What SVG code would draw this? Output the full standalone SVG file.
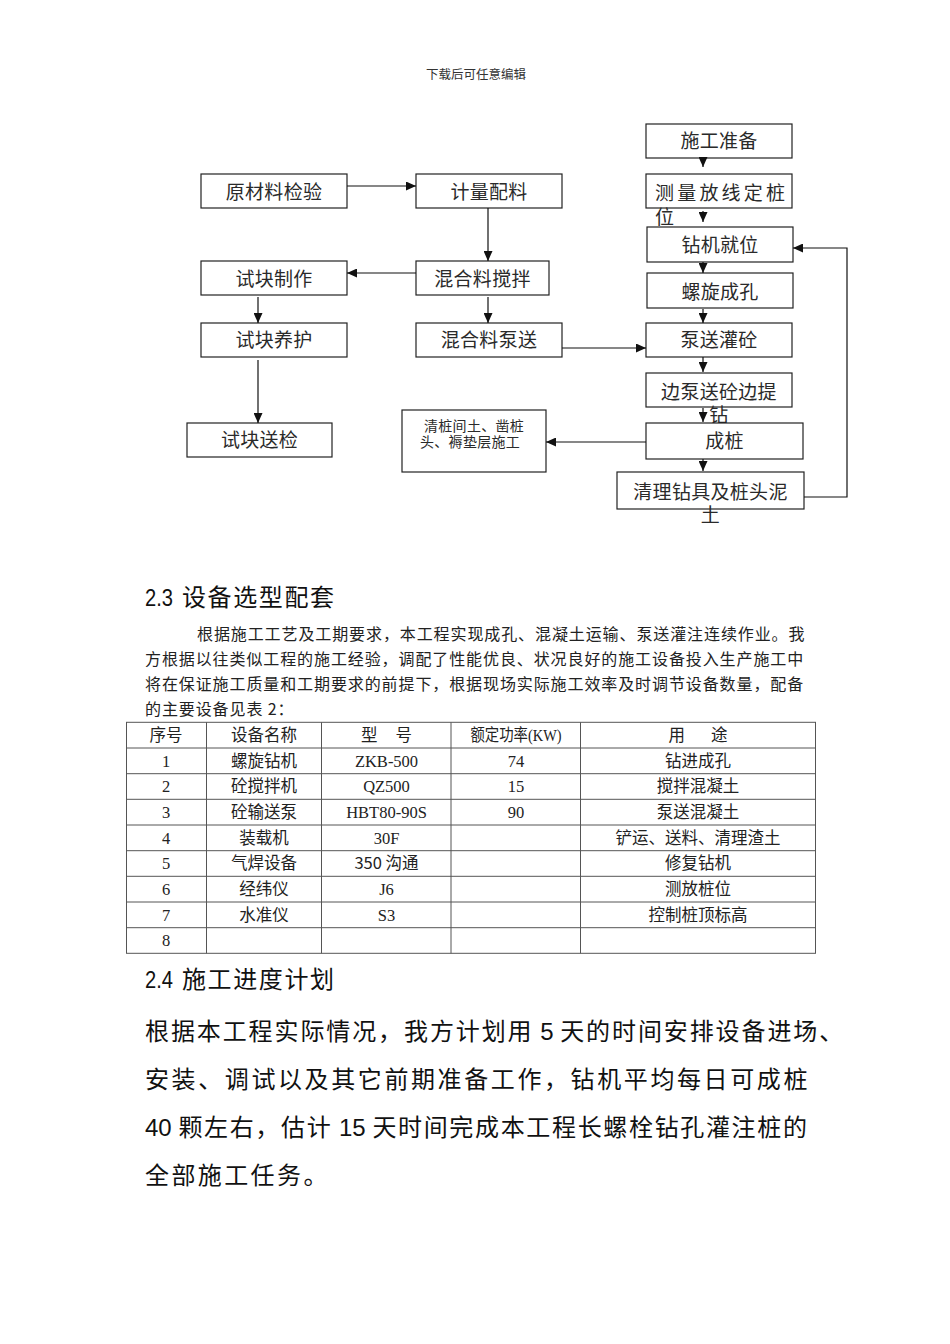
<svg xmlns="http://www.w3.org/2000/svg" width="950" height="1344" viewBox="0 0 950 1344">
<defs>
<style>
.box{fill:#fff;stroke:#222;stroke-width:1.2}
.lbl{font-family:"Noto Sans CJK SC",sans-serif;font-size:19px;fill:#2a2a2a;text-anchor:middle;letter-spacing:0.3px}
.sm{font-family:"Noto Sans CJK SC",sans-serif;font-size:14px;fill:#2a2a2a;letter-spacing:0.3px}
.conn{stroke:#111;stroke-width:1.2;fill:none;marker-end:url(#arr)}
.grid{stroke:#555;stroke-width:1;fill:none}
.tb{font-family:"Liberation Serif","Noto Sans CJK SC",serif;font-size:16.5px;fill:#222;text-anchor:middle}
.h2{font-family:"Noto Sans CJK SC",sans-serif;font-size:24px;fill:#111;letter-spacing:1.6px}
.p{font-family:"Noto Sans CJK SC",sans-serif;font-size:16px;fill:#222;letter-spacing:0.9px}
.big{font-family:"Noto Sans CJK SC",sans-serif;font-size:24px;fill:#111}
.lat{font-family:"Liberation Sans",sans-serif;letter-spacing:0}
</style>
<marker id="arr" markerUnits="userSpaceOnUse" markerWidth="10" markerHeight="9" refX="10" refY="4.5" orient="auto">
<path d="M0,0 L10,4.5 L0,9 z" fill="#111"/>
</marker>
</defs>
<rect x="0" y="0" width="950" height="1344" fill="#fff"/>

<text x="476" y="78.5" font-family="Noto Sans CJK SC, sans-serif" font-size="12.5" fill="#333" text-anchor="middle">下载后可任意编辑</text>

<g id="n-yuancailiao"><rect class="box" x="201" y="174" width="146" height="34"/><text class="lbl" x="274" y="198.5">原材料检验</text></g>
<g id="n-jiliang"><rect class="box" x="416" y="174" width="146" height="34"/><text class="lbl" x="489" y="198.5">计量配料</text></g>
<g id="n-jiaoban"><rect class="box" x="416" y="261" width="133" height="34"/><text class="lbl" x="482.5" y="285.5">混合料搅拌</text></g>
<g id="n-zhizuo"><rect class="box" x="201" y="261" width="146" height="34"/><text class="lbl" x="274" y="285.5">试块制作</text></g>
<g id="n-yanghu"><rect class="box" x="201" y="323" width="146" height="34"/><text class="lbl" x="274" y="347">试块养护</text></g>
<g id="n-bengsong"><rect class="box" x="416" y="323" width="146" height="34"/><text class="lbl" x="489" y="347">混合料泵送</text></g>
<g id="n-songjian"><rect class="box" x="187" y="423" width="145" height="34"/><text class="lbl" x="259.5" y="447">试块送检</text></g>
<g id="n-qingzhuang"><rect class="box" x="402" y="410" width="144" height="62"/><text class="sm" x="424" y="431.3">清桩间土、凿桩</text><text class="sm" x="420" y="447">头、褥垫层施工</text></g>

<g id="r-zhunbei"><rect class="box" x="646" y="124" width="146" height="34"/><text class="lbl" x="719" y="148">施工准备</text></g>
<g id="r-celiang"><rect class="box" x="646" y="174" width="146" height="34"/><text class="lbl" x="655" y="200" style="text-anchor:start;letter-spacing:3.2px">测量放线定桩</text><text class="lbl" x="655" y="223.5" style="text-anchor:start">位</text></g>
<g id="r-jiuwei"><rect class="box" x="647" y="227" width="146" height="35"/><text class="lbl" x="720" y="252">钻机就位</text></g>
<g id="r-chengkong"><rect class="box" x="647" y="273" width="146" height="35"/><text class="lbl" x="720" y="298.5">螺旋成孔</text></g>
<g id="r-guantong"><rect class="box" x="646" y="323" width="146" height="34"/><text class="lbl" x="719" y="347">泵送灌砼</text></g>
<g id="r-tizuan"><rect class="box" x="646" y="373" width="146" height="34"/><text class="lbl" x="719" y="398.5">边泵送砼边提</text><text class="lbl" x="719" y="422">钻</text></g>
<g id="r-chengzhuang"><rect class="box" x="646" y="423" width="157" height="36"/><text class="lbl" x="724.5" y="448">成桩</text></g>
<g id="r-qingli"><rect class="box" x="617" y="472" width="187" height="37"/><text class="lbl" x="710.5" y="498.5">清理钻具及桩头泥</text><text class="lbl" x="710.5" y="521.5">土</text></g>

<g id="connectors">
<line class="conn" x1="347" y1="186" x2="416" y2="186"/>
<line class="conn" x1="488" y1="208" x2="488" y2="261"/>
<line class="conn" x1="416" y1="273" x2="347" y2="273"/>
<line class="conn" x1="258" y1="297" x2="258" y2="323"/>
<line class="conn" x1="488" y1="297" x2="488" y2="323"/>
<line class="conn" x1="258" y1="360" x2="258" y2="423"/>
<line class="conn" x1="562" y1="348" x2="646" y2="348"/>
<line class="conn" x1="703" y1="158" x2="703" y2="167"/>
<line class="conn" x1="703" y1="211" x2="703" y2="222"/>
<line class="conn" x1="703" y1="262" x2="703" y2="273"/>
<line class="conn" x1="703" y1="309" x2="703" y2="323"/>
<line class="conn" x1="703" y1="357" x2="703" y2="372"/>
<line class="conn" x1="703" y1="408" x2="703" y2="422"/>
<line class="conn" x1="703" y1="459" x2="703" y2="471"/>
<line class="conn" x1="646" y1="442" x2="546" y2="442"/>
<polyline class="conn" points="804,497 847,497 847,248 793,248"/>
</g>

<g id="sec23">
<text class="h2" x="145" y="606"><tspan class="lat" textLength="28" lengthAdjust="spacingAndGlyphs">2.3</tspan> <tspan x="182">设备选型配套</tspan></text>
<text class="p" x="197" y="640">根据施工工艺及工期要求，本工程实现成孔、混凝土运输、泵送灌注连续作业。我</text>
<text class="p" x="145" y="665">方根据以往类似工程的施工经验，调配了性能优良、状况良好的施工设备投入生产施工中</text>
<text class="p" x="145" y="690">将在保证施工质量和工期要求的前提下，根据现场实际施工效率及时调节设备数量，配备</text>
<text class="p" x="145" y="715">的主要设备见表 2：</text>
</g>

<g id="table">
<rect class="grid" x="126.5" y="722.3" width="689" height="231"/>
<line class="grid" x1="126.5" y1="748" x2="815.5" y2="748"/>
<line class="grid" x1="126.5" y1="773.7" x2="815.5" y2="773.7"/>
<line class="grid" x1="126.5" y1="799.3" x2="815.5" y2="799.3"/>
<line class="grid" x1="126.5" y1="825" x2="815.5" y2="825"/>
<line class="grid" x1="126.5" y1="850.7" x2="815.5" y2="850.7"/>
<line class="grid" x1="126.5" y1="876.3" x2="815.5" y2="876.3"/>
<line class="grid" x1="126.5" y1="902" x2="815.5" y2="902"/>
<line class="grid" x1="126.5" y1="927.7" x2="815.5" y2="927.7"/>
<line class="grid" x1="206.5" y1="722.3" x2="206.5" y2="953.3"/>
<line class="grid" x1="321.5" y1="722.3" x2="321.5" y2="953.3"/>
<line class="grid" x1="451" y1="722.3" x2="451" y2="953.3"/>
<line class="grid" x1="580.5" y1="722.3" x2="580.5" y2="953.3"/>

<text class="tb" x="166" y="741">序号</text>
<text class="tb" x="264" y="741">设备名称</text>
<text class="tb" x="386.5" y="741" word-spacing="14">型 号</text>
<text class="tb" x="516" y="741" textLength="91" lengthAdjust="spacingAndGlyphs">额定功率(KW)</text>
<text class="tb" x="698" y="741" word-spacing="22">用 途</text>

<text class="tb" x="166" y="766.5">1</text><text class="tb" x="264" y="766.5">螺旋钻机</text><text class="tb" x="386.5" y="766.5">ZKB-500</text><text class="tb" x="516" y="766.5">74</text><text class="tb" x="698" y="766.5">钻进成孔</text>
<text class="tb" x="166" y="792.2">2</text><text class="tb" x="264" y="792.2">砼搅拌机</text><text class="tb" x="386.5" y="792.2">QZ500</text><text class="tb" x="516" y="792.2">15</text><text class="tb" x="698" y="792.2">搅拌混凝土</text>
<text class="tb" x="166" y="817.8">3</text><text class="tb" x="264" y="817.8">砼输送泵</text><text class="tb" x="386.5" y="817.8">HBT80-90S</text><text class="tb" x="516" y="817.8">90</text><text class="tb" x="698" y="817.8">泵送混凝土</text>
<text class="tb" x="166" y="843.5">4</text><text class="tb" x="264" y="843.5">装载机</text><text class="tb" x="386.5" y="843.5">30F</text><text class="tb" x="698" y="843.5">铲运、送料、清理渣土</text>
<text class="tb" x="166" y="869.2">5</text><text class="tb" x="264" y="869.2">气焊设备</text><text class="tb" x="386.5" y="869.2" style="font-family:'Noto Sans CJK SC',sans-serif">350 沟通</text><text class="tb" x="698" y="869.2">修复钻机</text>
<text class="tb" x="166" y="894.8">6</text><text class="tb" x="264" y="894.8">经纬仪</text><text class="tb" x="386.5" y="894.8">J6</text><text class="tb" x="698" y="894.8">测放桩位</text>
<text class="tb" x="166" y="920.5">7</text><text class="tb" x="264" y="920.5">水准仪</text><text class="tb" x="386.5" y="920.5">S3</text><text class="tb" x="698" y="920.5">控制桩顶标高</text>
<text class="tb" x="166" y="946.2">8</text>
</g>

<g id="sec24">
<text class="h2" x="145" y="988"><tspan class="lat" textLength="28" lengthAdjust="spacingAndGlyphs">2.4</tspan> <tspan x="182">施工进度计划</tspan></text>
<text class="big" x="145" y="1040" style="letter-spacing:1.9px">根据本工程实际情况，我方计划用<tspan class="lat"> 5 </tspan>天的时间安排设备进场、</text>
<text class="big" x="145" y="1088" style="letter-spacing:2.6px">安装、调试以及其它前期准备工作，钻机平均每日可成桩</text>
<text class="big" x="145" y="1136" style="letter-spacing:1.66px"><tspan class="lat">40 </tspan>颗左右，估计<tspan class="lat"> 15 </tspan>天时间完成本工程长螺栓钻孔灌注桩的</text>
<text class="big" x="145" y="1184" style="letter-spacing:2.4px">全部施工任务。</text>
</g>
</svg>
